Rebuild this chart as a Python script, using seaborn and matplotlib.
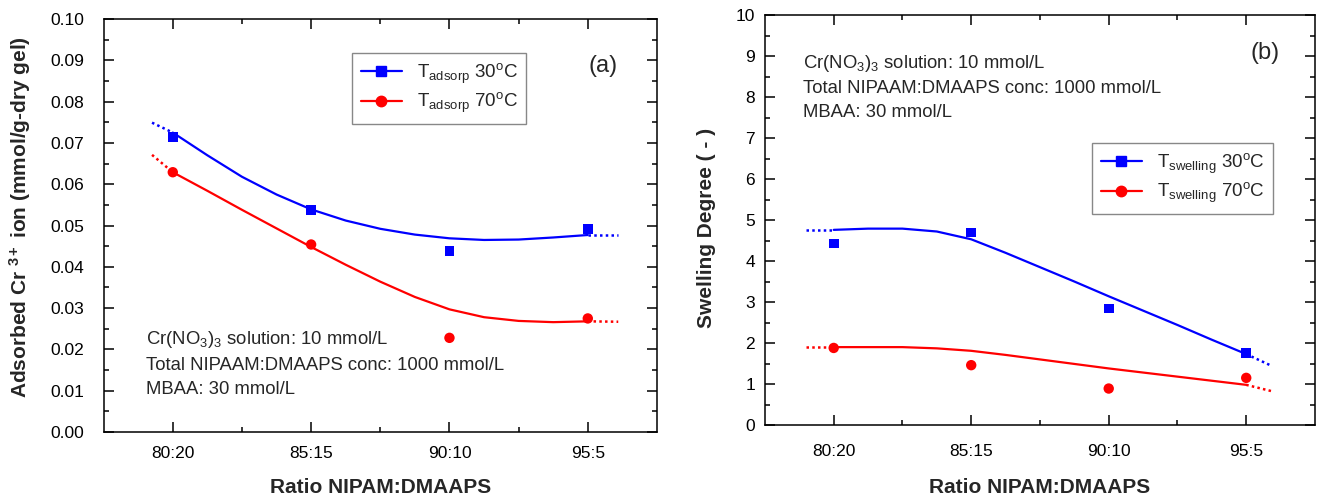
import numpy as np
import pandas as pd
import matplotlib
matplotlib.use("Agg")
import matplotlib.pyplot as plt
import seaborn as sns
from matplotlib.lines import Line2D
from matplotlib.ticker import MultipleLocator, FixedLocator, FormatStrFormatter

# ---------------- data ----------------
categories = ["80:20", "85:15", "90:10", "95:5"]

# panel (a): adsorbed Cr3+ (mmol/g-dry gel)
ads_30 = [0.0715, 0.0538, 0.0439, 0.0491]
ads_70 = [0.0629, 0.0454, 0.0228, 0.0275]
# panel (b): swelling degree
swl_30 = [4.43, 4.70, 2.84, 1.75]
swl_70 = [1.88, 1.46, 0.89, 1.15]

# fitted curves (category index positions)
fit_x = [0, 0.25, 0.5, 0.75, 1.0, 1.25, 1.5, 1.75, 2.0, 2.25, 2.5, 2.75, 3.0]
ads_30_fit = [0.0725, 0.0670, 0.0618, 0.0575, 0.0539, 0.0512, 0.0492, 0.0478, 0.0469, 0.0465, 0.0466, 0.0471, 0.0477]
ads_70_fit = [0.0629, 0.0584, 0.0538, 0.0493, 0.0448, 0.0405, 0.0364, 0.0327, 0.0297, 0.0278, 0.0269, 0.0266, 0.0268]
swl_30_fit = [4.76, 4.79, 4.79, 4.72, 4.53, 4.20, 3.85, 3.50, 3.14, 2.79, 2.44, 2.08, 1.73]
swl_70_fit = [1.90, 1.90, 1.90, 1.87, 1.81, 1.71, 1.60, 1.49, 1.38, 1.28, 1.18, 1.08, 0.98]

# dotted extrapolations
ads_ext_left_x = [-0.15, 0]
ads_ext_right_x = [3.0, 3.22]
ads_30_ext_left = [0.0749, 0.0725]
ads_30_ext_right = [0.0477, 0.0477]
ads_70_ext_left = [0.0671, 0.0629]
ads_70_ext_right = [0.0268, 0.0267]
swl_ext_left_x = [-0.2, 0]
swl_ext_right_x = [3.0, 3.18]
swl_30_ext_left = [4.76, 4.76]
swl_30_ext_right = [1.73, 1.45]
swl_70_ext_left = [1.90, 1.90]
swl_70_ext_right = [0.98, 0.83]

legend_a = [r"T$_{\mathrm{adsorp}}$ 30$^{\mathrm{o}}$C", r"T$_{\mathrm{adsorp}}$ 70$^{\mathrm{o}}$C"]
legend_b = [r"T$_{\mathrm{swelling}}$ 30$^{\mathrm{o}}$C", r"T$_{\mathrm{swelling}}$ 70$^{\mathrm{o}}$C"]
note_lines = [r"Cr(NO$_{3}$)$_{3}$ solution: 10 mmol/L",
              "Total NIPAAM:DMAAPS conc: 1000 mmol/L",
              "MBAA: 30 mmol/L"]

# ---------------- style ----------------
sns.set_style("ticks")
plt.rcParams["font.family"] = ["Liberation Sans", "DejaVu Sans"]
plt.rcParams["mathtext.fontset"] = "custom"
plt.rcParams["mathtext.rm"] = "Liberation Sans"
plt.rcParams["mathtext.it"] = "Liberation Sans:italic"
plt.rcParams["mathtext.bf"] = "Liberation Sans:bold"

BLUE = "#0000ff"
RED = "#ff0000"

fig = plt.figure(figsize=(13.2, 4.96), dpi=100)
axa = fig.add_axes([0.0785, 0.129, 0.4192, 0.8327])
axb = fig.add_axes([0.5795, 0.1431, 0.4167, 0.8266])

pos = np.arange(len(categories))


def draw(ax, y30, y70, f30, f70, lx, rx, l30, r30, l70, r70):
    for fy, ly, ry, c in [(f30, l30, r30, BLUE), (f70, l70, r70, RED)]:
        sns.lineplot(x=fit_x, y=fy, ax=ax, color=c, lw=1.6, sort=False, estimator=None)
        sns.lineplot(x=lx, y=ly, ax=ax, color=c, lw=1.8, ls=(0, (1, 1.3)), sort=False, estimator=None)
        sns.lineplot(x=rx, y=ry, ax=ax, color=c, lw=1.8, ls=(0, (1, 1.3)), sort=False, estimator=None)
    sns.scatterplot(x=pos, y=y30, ax=ax, marker="s", s=48, color=BLUE, edgecolor="none", zorder=5)
    sns.scatterplot(x=pos, y=y70, ax=ax, marker="o", s=56, color=RED, edgecolor="none", zorder=5)


def style(ax, ymax, major, minor, ypad, xpad):
    ax.set_xlim(-0.5, 3.5)
    ax.set_ylim(0, ymax)
    ax.set_xticks(pos)
    ax.set_xticklabels(categories)
    ax.xaxis.set_minor_locator(FixedLocator([0.5, 1.5, 2.5]))
    ax.yaxis.set_major_locator(MultipleLocator(major))
    ax.yaxis.set_minor_locator(MultipleLocator(minor))
    ax.tick_params(which="both", direction="in", top=True, right=True, width=1.1, colors="black")
    ax.tick_params(which="major", length=7)
    ax.tick_params(which="minor", length=3.5)
    ax.tick_params(axis="y", labelsize=12.5, pad=ypad)
    ax.tick_params(axis="x", labelsize=12.5, pad=xpad)
    for s in ax.spines.values():
        s.set_linewidth(1.1)
        s.set_color("black")
        s.set_visible(True)


draw(axa, ads_30, ads_70, ads_30_fit, ads_70_fit, ads_ext_left_x, ads_ext_right_x,
     ads_30_ext_left, ads_30_ext_right, ads_70_ext_left, ads_70_ext_right)
draw(axb, swl_30, swl_70, swl_30_fit, swl_70_fit, swl_ext_left_x, swl_ext_right_x,
     swl_30_ext_left, swl_30_ext_right, swl_70_ext_left, swl_70_ext_right)

style(axa, 0.10, 0.01, 0.005, 14, 10)
axa.yaxis.set_major_formatter(FormatStrFormatter("%.2f"))
style(axb, 10, 1, 0.5, 7, 14)

axa.set_xlabel("Ratio NIPAM:DMAAPS", fontsize=15, fontweight="bold")
axb.set_xlabel("Ratio NIPAM:DMAAPS", fontsize=15, fontweight="bold")
axa.xaxis.set_label_coords(0.5, -0.112)
axb.xaxis.set_label_coords(0.5, -0.129)
axa.set_ylabel(r"Adsorbed Cr $^{\mathbf{3+}}$ ion (mmol/g-dry gel)", fontsize=15, fontweight="bold")
axb.set_ylabel("Swelling Degree ( - )", fontsize=15, fontweight="bold")
axa.yaxis.set_label_coords(-0.128, 0.52)
axb.yaxis.set_label_coords(-0.089, 0.48)

axa.text(0.902, 0.886, "(a)", transform=axa.transAxes, fontsize=17, ha="center", va="center")
axb.text(0.909, 0.907, "(b)", transform=axb.transAxes, fontsize=17, ha="center", va="center")

for i, yy in enumerate([0.212, 0.151, 0.092]):
    axa.text(0.0766, yy, note_lines[i], transform=axa.transAxes, fontsize=13.3, ha="left", va="baseline")
for i, yy in enumerate([0.870, 0.810, 0.751]):
    axb.text(0.069, yy, note_lines[i], transform=axb.transAxes, fontsize=13.3, ha="left", va="baseline")


def handles():
    return [Line2D([], [], color=BLUE, marker="s", markersize=7, lw=1.6),
            Line2D([], [], color=RED, marker="o", markersize=7.5, lw=1.6)]


for ax, labels, anchor in [(axa, legend_a, (0.449, 0.918)), (axb, legend_b, (0.595, 0.688))]:
    leg = ax.legend(handles(), labels, loc="upper left", bbox_to_anchor=anchor, borderaxespad=0,
                    fontsize=13.5, frameon=True, fancybox=False, framealpha=1, edgecolor="#888888",
                    handlelength=2.2, handletextpad=0.8, labelspacing=0.3, borderpad=0.45)
    leg.get_frame().set_linewidth(1.0)

fig.savefig("out.png", dpi=100)
